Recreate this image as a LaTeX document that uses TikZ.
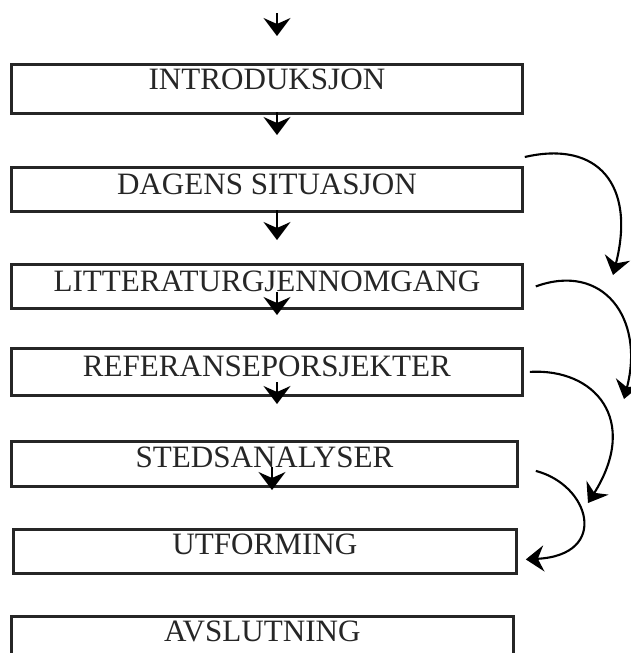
\documentclass[tikz,border=0pt]{standalone}
\usepackage{fontspec}
\setmainfont{Liberation Serif}
\usepackage{tikz}
\usetikzlibrary{arrows.meta}

\begin{document}
\begin{tikzpicture}[x=0.02cm, y=-0.02cm,
    boks/.style={draw=black!85, line width=1.6pt, inner sep=0pt, anchor=north west,
        font=\fontsize{17.7}{19}\selectfont, text=black!85},
    pil/.style={line width=1.2pt, -{Stealth[length=0.36cm, width=0.54cm, inset=0.12cm]}},
    bue/.style={line width=1.2pt, -{Stealth[length=0.36cm, width=0.52cm, inset=0.12cm]}}]

    % Define parameters
    \def\px{0.02cm}  % one pixel of the page
    \def\pilX{277}   % column of the short arrows

    % Page frame
    \useasboundingbox (0,0) rectangle (631,653);

    % Draw the chapter boxes
    \node[boks, minimum width=511*\px, text height=25*\px, text depth=24*\px] (intro) at (10,63) {INTRODUKSJON};
    \node[boks, minimum width=511*\px, text height=27*\px, text depth=17*\px] (dagens) at (10,166) {DAGENS SITUASJON};
    \node[boks, minimum width=511*\px, text height=27*\px, text depth=17*\px] (litt) at (10,263) {LITTERATURGJENNOMGANG};
    \node[boks, minimum width=511*\px, text height=28*\px, text depth=19*\px] (ref) at (10,347) {REFERANSEPORSJEKTER};
    \node[boks, minimum width=506*\px, text height=26*\px, text depth=19*\px] (sted) at (10,440) {STEDSANALYSER};
    \node[boks, minimum width=503*\px, text height=25*\px, text depth=19*\px] (utf) at (12,528) {UTFORMING};
    \node[boks, minimum width=502*\px, text height=25*\px, text depth=45*\px] (avsl) at (10,615) {AVSLUTNING};

    % Short downward arrows
    \foreach \n/\x/\ya/\yb in {a0/\pilX/13/36, a1/\pilX/112/135, a2/\pilX/210/240,
                               a3/\pilX/292/315, a4/\pilX/382/404, a5/272/467/490} {
        \coordinate (\n s) at (\x,\ya);
        \coordinate (\n e) at (\x,\yb);
        \draw[pil] (\n s) -- (\n e);
    }

    % Curved arrows on the right
    \coordinate (b1) at (613,275);
    \coordinate (b2) at (624,399);
    \coordinate (b3) at (588,503);
    \draw[bue] ([shift={(1,-9)}]dagens.north east) .. controls (598,140) and (636,185) .. (b1);
    \draw[bue] ([xshift=12*\px]litt.east) .. controls (603,262) and (645,318) .. (b2);
    \draw[bue] ([xshift=6*\px]ref.east) .. controls (595,368) and (640,420) .. (b3);
    \draw[bue] ([shift={(17,7)}]sted.east) .. controls (590,485) and (610,555) .. ([shift={(8,8)}]utf.east);

\end{tikzpicture}
\end{document}
